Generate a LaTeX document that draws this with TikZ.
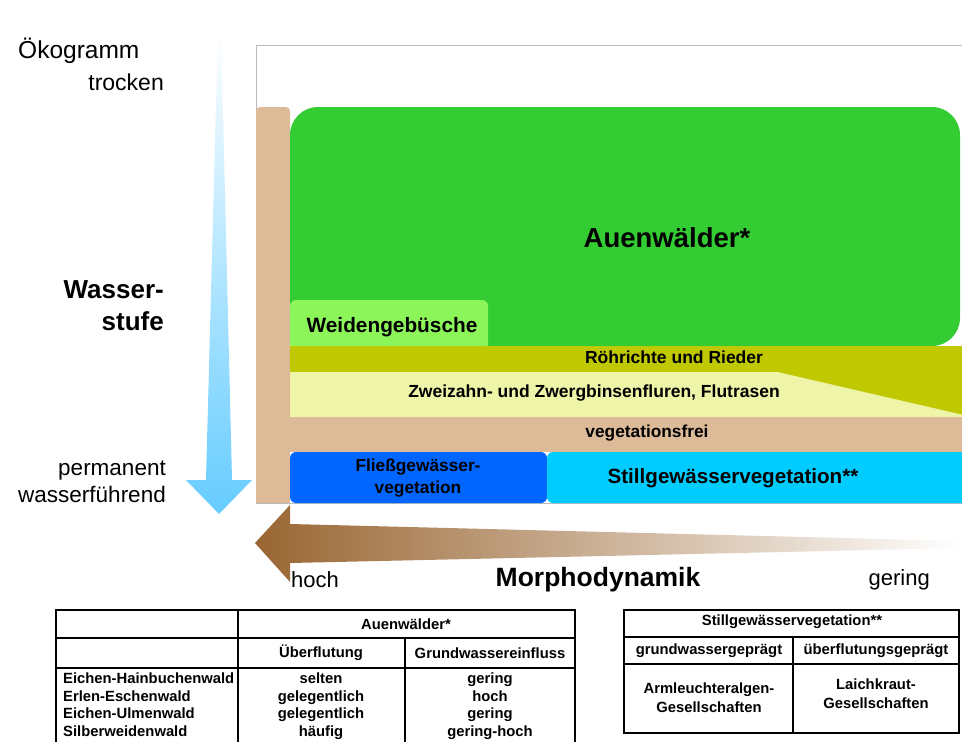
\documentclass[tikz,border=0pt]{standalone}
\usepackage{fontspec}
\setmainfont{Liberation Sans}
\definecolor{cSand}{HTML}{DDBB99}
\definecolor{cWald}{HTML}{33CC33}
\definecolor{cWeide}{HTML}{8CF55A}
\definecolor{cRoehr}{HTML}{BFC800}
\definecolor{cFlut}{HTML}{EEF4A8}
\definecolor{cFliess}{HTML}{0066FF}
\definecolor{cStill}{HTML}{00CCFF}
\definecolor{cWasser}{HTML}{66CCFF}
\definecolor{cMorph}{HTML}{996633}
\definecolor{cRahmen}{HTML}{BBBBBB}

\begin{document}
\begin{tikzpicture}[
    x=1pt, y=-1pt, inner sep=0pt,
    fs/.style 2 args={font=\fontsize{#1}{#2}\selectfont},
    bfs/.style 2 args={font=\bfseries\fontsize{#1}{#2}\selectfont},
    zone/.style={bfs={17.3}{22}, align=center},
    tab/.style={bfs={14.8}{17.5}, align=center},
    grid/.style={line width=1.4pt, black},
]
\useasboundingbox (0,0) rectangle (962,742);
\clip (0,0) rectangle (962,742);

% ===================== Rahmen =====================
\draw[cRahmen, line width=0.9pt] (256,45) rectangle (990,503);

% ===================== Wasserstufe (Pfeil) =====================
\shade[top color=white, bottom color=cWasser]
      (218,30) -- (221,30) -- (232,480) -- (252,480) -- (219,514)
      -- (186,480) -- (206,480) -- cycle;

% ===================== Morphodynamik (Pfeil) =====================
\shade[left color=cMorph, right color=white]
      (255,543) -- (290,505) -- (290,524) -- (962,541) -- (962,548)
      -- (290,563) -- (290,582) -- cycle;

% ===================== Rohboden =====================
\fill[cSand, rounded corners=4] (256,107) rectangle (290,140);
\fill[cSand] (256,115) rectangle (290,503);
\fill[cSand] (256,417) rectangle (990,452);

% ===================== Auenwälder und Gebüsche =====================
\fill[cWald, rounded corners=28] (290,107) rectangle (960,346);
\fill[cWeide, rounded corners=6] (290,300) rectangle (488,350);

% ===================== Röhrichte, Flutrasen =====================
\fill[cFlut] (290,372) rectangle (990,417);
\fill[cRoehr] (290,346) rectangle (990,372);
\fill[cRoehr] (778,372) -- (990,372) -- (990,421) -- cycle;

% ===================== Gewässervegetation =====================
\fill[cFliess, rounded corners=6] (290,452) rectangle (547,503);
\fill[cStill, rounded corners=6] (547,452) rectangle (990,503);

% ===================== Beschriftung der Zonen =====================
\node[bfs={27.5}{30}] (auen) at (667,238) {Auenwälder*};
\node[bfs={20.8}{24}] (weiden) at (392,327) {Weidengebüsche};
\node[bfs={17.5}{19}] (roehr) at (674,357) {Röhrichte und Rieder};
\node[zone, bfs={17.5}{22}] (flut) at (594,393) {Zweizahn- und Zwergbinsenfluren, Flutrasen};
\node[zone] (vegfrei) at (647,433) {vegetationsfrei};
\node[zone] (fliess) at (418,478) {Fließgewässer-\\vegetation};
\node[bfs={20.6}{24}] (still) at (733,478) {Stillgewässervegetation**};

% ===================== Achsen =====================
\node[fs={24.5}{26}, anchor=base west] (oeko) at (18,58) {Ökogramm};
\node[fs={23}{26}, anchor=base east] (trocken) at (164,90) {trocken};
\node[bfs={26}{32}, anchor=east, align=right] (stufe) at (164,306) {Wasser-\\stufe};
\node[fs={22.5}{27}, anchor=east, align=right] (perm) at (166,482) {permanent\\wasserführend};
\node[fs={22}{26}, anchor=west] (hoch) at (291,580) {hoch};
\node[bfs={26.5}{30}] (morph) at (598,580) {Morphodynamik};
\node[fs={22}{26}, anchor=east] (gering) at (930,580) {gering};

% ===================== Tabelle Auenwälder =====================
\draw[grid] (56,742) -- (56,610) -- (575,610) -- (575,742);
\draw[grid] (56,638) -- (575,638);
\draw[grid] (56,668) -- (575,668);
\draw[grid] (238,610) -- (238,742);
\draw[grid] (405,638) -- (405,742);
\node[tab] (tAuen) at (406,624) {Auenwälder*};
\node[tab] (tUeber) at (321,653) {Überflutung};
\node[tab] (tGrund) at (490,653) {Grundwassereinfluss};
\node[tab, align=left, anchor=north west] (tNamen) at (63,673)
      {Eichen-Hainbuchenwald\\Erlen-Eschenwald\\Eichen-Ulmenwald\\Silberweidenwald};
\node[tab, anchor=north] (tUeberW) at (321,673)
      {selten\\gelegentlich\\gelegentlich\\häufig};
\node[tab, anchor=north] (tGrundW) at (490,673)
      {gering\\hoch\\gering\\gering-hoch};

% ===================== Tabelle Stillgewässer =====================
\draw[grid] (624,610) rectangle (959,733);
\draw[grid] (624,637) -- (959,637);
\draw[grid] (624,664) -- (959,664);
\draw[grid] (793,637) -- (793,733);
\node[tab] (sKopf) at (792,622) {Stillgewässervegetation**};
\node[tab] (sGrund) at (709,651) {grundwassergeprägt};
\node[tab] (sUeber) at (876,651) {überflutungsgeprägt};
\node[tab, bfs={14.8}{19}] (sArm) at (709,698) {Armleuchteralgen-\\Gesellschaften};
\node[tab, bfs={14.8}{19}] (sLaich) at (876,694) {Laichkraut-\\Gesellschaften};

\end{tikzpicture}
\end{document}
